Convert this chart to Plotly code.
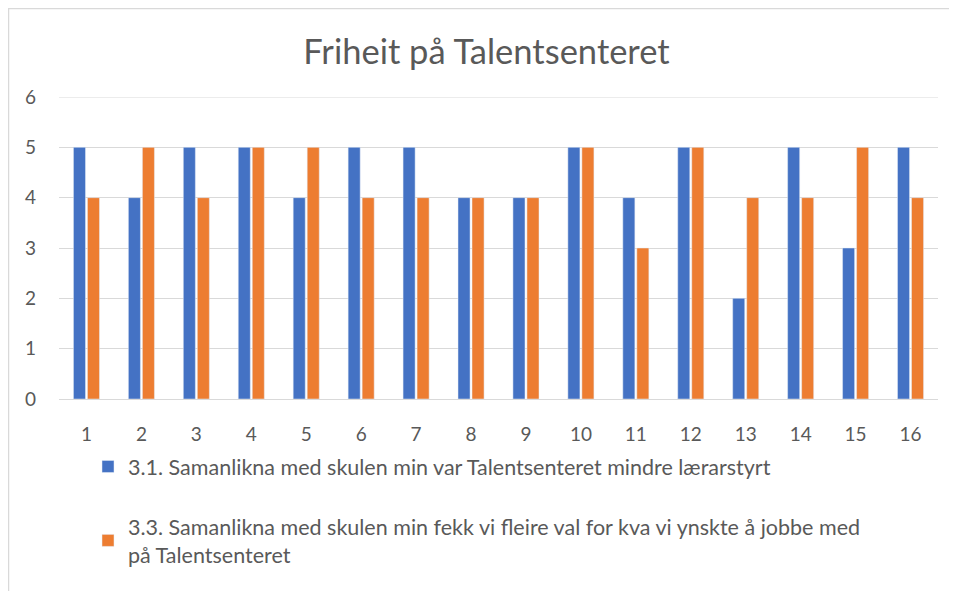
import plotly.graph_objects as go

categories = [str(i) for i in range(1, 17)]
series1_name = "3.1. Samanlikna med skulen min var Talentsenteret mindre lærarstyrt"
series2_name = "3.3. Samanlikna med skulen min fekk vi fleire val for kva vi ynskte å jobbe med<br>på Talentsenteret"
series1 = [5, 4, 5, 5, 4, 5, 5, 4, 4, 5, 4, 5, 2, 5, 3, 5]
series2 = [4, 5, 4, 5, 5, 4, 4, 4, 4, 5, 3, 5, 4, 4, 5, 4]
y_ticks = [0, 1, 2, 3, 4, 5, 6]

FONT = "Lato"
GRAY = "#595959"
GRID = "#D9D9D9"

fig = go.Figure()
fig.add_trace(go.Bar(x=categories, y=series1, name=series1_name, marker_color="#4472C4",
                     legendgroup="a"))
fig.add_trace(go.Bar(x=categories, y=series2, name=series2_name, marker_color="#ED7D31",
                     legendgroup="b"))

# page body has an 8px margin on every side; keep the figure inside the window
OFF = 8
W, H = 957 - 2 * OFF, 599 - 2 * OFF
L, T = 59 - OFF, 97 - OFF
R = W - (938 - OFF)
B = H - (399 - OFF)
pw, ph = W - L - R, H - T - B

def px(x):
    return (x - OFF - L) / pw

def py(y):
    return (H - B - (y - OFF)) / ph

fig.update_layout(
    width=W, height=H,
    margin=dict(l=L, r=R, t=T, b=B, autoexpand=False),
    paper_bgcolor="white", plot_bgcolor="white",
    barmode="group", bargap=0.49, bargroupgap=0.14,
    title=dict(text="Friheit på Talentsenteret", x=px(486.5), xanchor="center",
               xref="paper", y=1 - (52 - OFF) / H, yanchor="middle",
               font=dict(family=FONT, size=34.5, color=GRAY)),
    font=dict(family=FONT, color=GRAY),
    xaxis=dict(showgrid=False, showline=True, linecolor=GRID, linewidth=1,
               tickfont=dict(size=19, color=GRAY), ticks="", ticklabelstandoff=18,
               fixedrange=True),
    yaxis=dict(range=[0, 6], tickvals=y_ticks, showgrid=True, gridcolor=GRID,
               gridwidth=1, zeroline=False, showline=False,
               tickfont=dict(size=19, color=GRAY), ticks="", ticklabelstandoff=22),
    legend=dict(orientation="v", x=px(88), xanchor="left", y=py(446), yanchor="top",
                font=dict(size=21.5, color=GRAY, family=FONT), tracegroupgap=29,
                itemwidth=30, bgcolor="rgba(0,0,0,0)"),
    shapes=[
        dict(type="rect", xref="paper", yref="paper",
             x0=px(8.5), x1=px(975), y0=py(8.5), y1=py(620),
             line=dict(color=GRID, width=1.5), fillcolor="rgba(0,0,0,0)",
             layer="below"),
        dict(type="line", xref="paper", yref="y", x0=0, x1=1,
             y0=y_ticks[-1], y1=y_ticks[-1],
             line=dict(color=GRID, width=1), layer="below"),
    ],
)

fig.write_html("out.html")
